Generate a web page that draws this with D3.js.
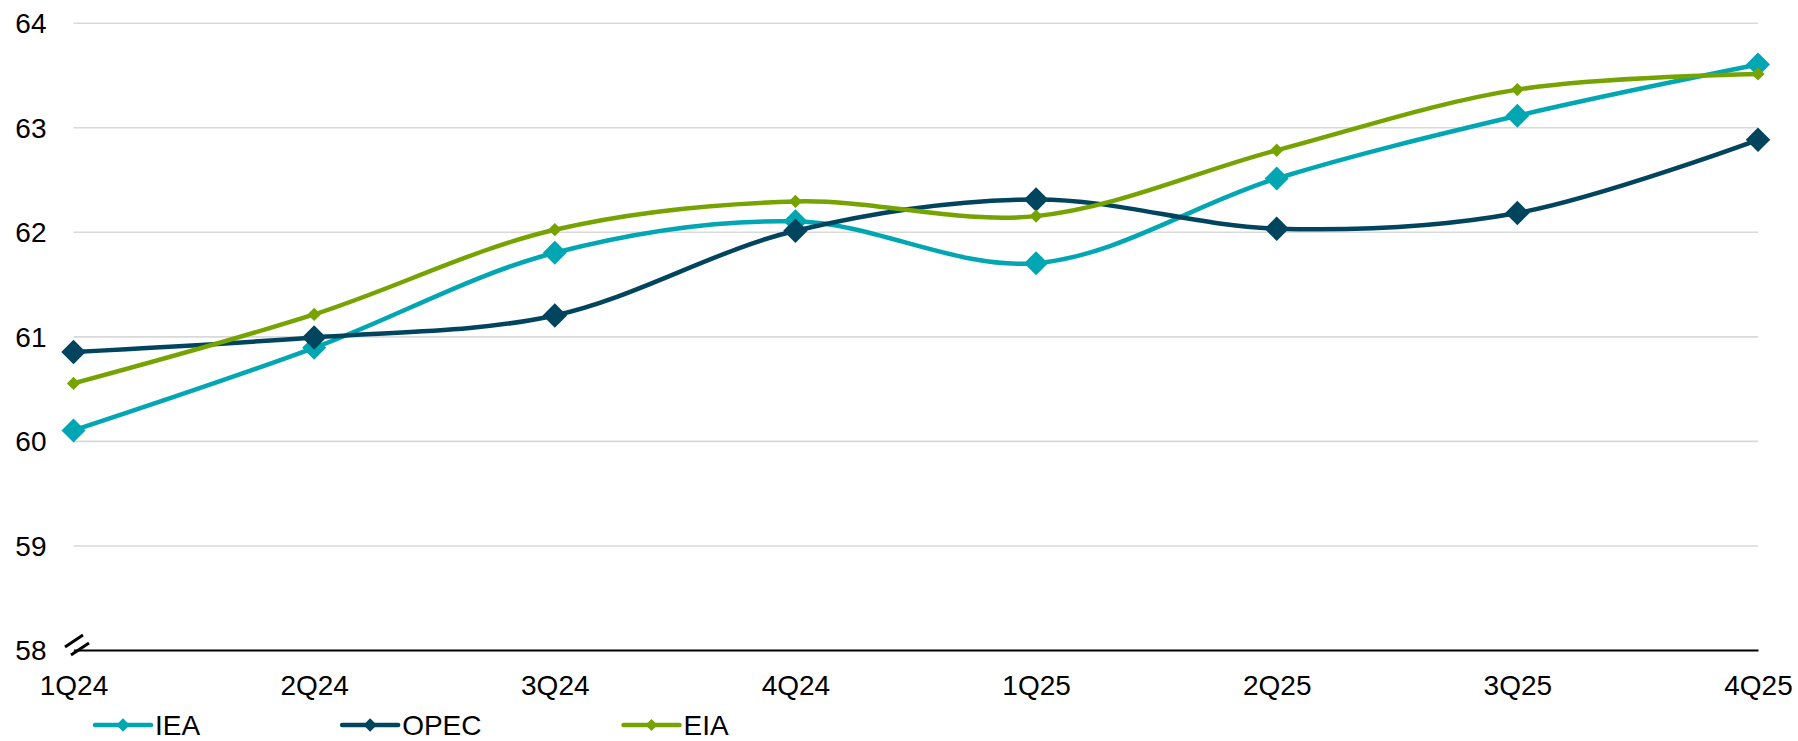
<!DOCTYPE html>
<html>
<head>
<meta charset="utf-8">
<script src="https://cdn.jsdelivr.net/npm/d3@7"></script>
<style>
  body { margin: 0; background: #fff; }
  svg { display: block; font-family: "Liberation Sans", Arial, sans-serif; }
  .tick text { font-size: 28px; fill: #000; }
  .legend text { font-size: 28px; fill: #000; }
</style>
</head>
<body>
<svg width="1798" height="741"></svg>
<script>
(function (d3) {
  "use strict";

  const quarters = ["1Q24", "2Q24", "3Q24", "4Q24", "1Q25", "2Q25", "3Q25", "4Q25"];
  const yTicks = [58, 59, 60, 61, 62, 63, 64];

  const iea = [60.1, 60.89, 61.8, 62.1, 61.7, 62.51, 63.11, 63.6];
  const opec = [60.85, 60.99, 61.2, 62.01, 62.31, 62.03, 62.18, 62.88];
  const eia = [60.55, 61.21, 62.02, 62.29, 62.15, 62.78, 63.36, 63.51];

  const series = [
    { name: "IEA", values: iea, color: "#00a6b2", marker: 288 },
    { name: "OPEC", values: opec, color: "#00445e", marker: 300 },
    { name: "EIA", values: eia, color: "#76a300", marker: 88 }
  ];

  const svg = d3.select("svg");

  const left = 73.5;
  const right = 1758;
  const top = 22.7;
  const bottom = 650;

  const xScale = d3.scalePoint().domain(quarters).range([left, right]);
  const yScale = d3.scaleLinear().domain([58, 64]).range([bottom, top]);

  // gridlines + y labels
  const yAxisG = svg
    .append("g")
    .attr("transform", `translate(${left},0)`)
    .call(d3.axisLeft(yScale).tickValues(yTicks).tickFormat(d3.format("d"))
      .tickSize(-(right - left)).tickPadding(27));
  yAxisG.select(".domain").remove();
  yAxisG.selectAll(".tick line").attr("stroke", "#d9d9d9").attr("stroke-width", 1.6);
  yAxisG.selectAll(".tick text").attr("dy", "0.35em");

  // x axis
  const xAxisG = svg
    .append("g")
    .attr("transform", `translate(0,${bottom})`)
    .call(d3.axisBottom(xScale).tickSize(0).tickSizeOuter(0).tickPadding(25));
  xAxisG.select(".domain").attr("stroke", "#000").attr("stroke-width", 2);

  // axis break marks
  const brk = svg.append("g").attr("stroke", "#000").attr("stroke-width", 3);
  brk.append("line").attr("x1", 65).attr("y1", 647).attr("x2", 83).attr("y2", 635);
  brk.append("line").attr("x1", 71).attr("y1", 655).attr("x2", 89).attr("y2", 643);

  const line = d3.line()
    .x((d, i) => xScale(quarters[i]))
    .y((d) => yScale(d))
    .curve(d3.curveCatmullRom.alpha(0.5));

  const diamond = (size) => d3.symbol(d3.symbolSquare, size)();

  series.forEach((s) => {
    const g = svg.append("g");
    g.append("path")
      .datum(s.values)
      .attr("fill", "none")
      .attr("stroke", s.color)
      .attr("stroke-width", 4.5)
      .attr("d", line);
    g.selectAll("path.marker")
      .data(s.values)
      .enter()
      .append("path")
      .attr("class", "marker")
      .attr("d", diamond(s.marker))
      .attr("fill", s.color)
      .attr("transform", (d, i) => `translate(${xScale(quarters[i])},${yScale(d)}) rotate(45)`);
  });

  // legend
  const legend = svg.append("g").attr("class", "legend");
  let lx = 95;
  const ly = 725;
  series.forEach((s) => {
    const item = legend.append("g").attr("transform", `translate(${lx},${ly})`);
    item.append("line")
      .attr("x1", 0).attr("x2", 56)
      .attr("stroke", s.color).attr("stroke-width", 4.5)
      .attr("stroke-linecap", "round");
    item.append("path")
      .attr("d", diamond(s.name === "EIA" ? 72 : 90))
      .attr("fill", s.color)
      .attr("transform", "translate(28,0) rotate(45)");
    const t = item.append("text")
      .attr("x", 60)
      .attr("y", 0)
      .attr("dy", "0.35em")
      .text(s.name);
    lx += 60 + t.node().getComputedTextLength() + 142;
  });
})(d3);
</script>
</body>
</html>
